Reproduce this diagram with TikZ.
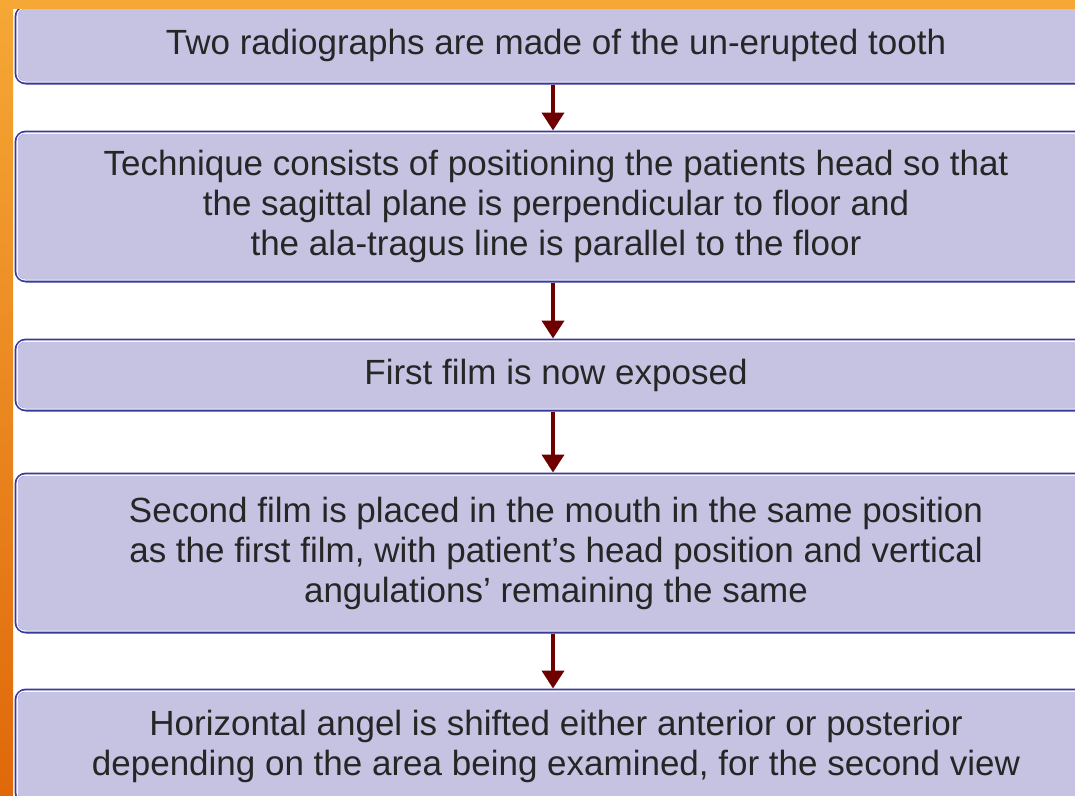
\documentclass[tikz,border=0pt]{standalone}
\usepackage{fontspec}
\setmainfont{Liberation Sans}
\usetikzlibrary{arrows.meta}
\definecolor{boxfill}{HTML}{C6C3E2}
\definecolor{boxline}{HTML}{3A3A9E}
\definecolor{arrred}{HTML}{6E0000}
\definecolor{txt}{HTML}{262626}
\definecolor{orTop}{HTML}{F5A836}
\definecolor{orBot}{HTML}{E0680A}
\tikzset{
  box/.style={draw=boxline, line width=3pt, fill=boxfill, rounded corners=10pt,
    minimum width=1080pt, inner sep=0pt, align=center, text=txt,
    font=\fontsize{35}{40}\selectfont},
  inset/.style={draw=white!85!boxfill, line width=1.3pt, rounded corners=8pt},
  arr/.style={draw=arrred, line width=4pt, -{Triangle[width=22pt,length=18pt]}},
}
\begin{document}
\begin{tikzpicture}[x=1pt,y=-1pt]
\useasboundingbox (0,0) rectangle (1075,795);
\clip (0,0) rectangle (1075,795);
\fill[white] (0,0) rectangle (1075,795);
% boxes
\node[box, minimum height=76pt] (b1) at (556,45) {Two radiographs are made of the un-erupted tooth};
\node[box, minimum height=149pt] (b2) at (556,206.5) {Technique consists of positioning the patients head so that\\the sagittal plane is perpendicular to floor and\\the ala-tragus line is parallel to the floor};
\node[box, minimum height=70pt] (b3) at (556,375) {First film is now exposed};
\node[box, minimum height=158pt] (b4) at (556,553) {Second film is placed in the mouth in the same position\\as the first film, with patient’s head position and vertical\\angulations’ remaining the same};
\node[box, minimum height=112pt] (b5) at (556,746) {Horizontal angel is shifted either anterior or posterior\\depending on the area being examined, for the second view};
% inner white lines
\foreach \b in {b1,b2,b3,b4,b5}{
  \draw[inset] ([shift={(2.6,2.6)}]\b.north west) rectangle ([shift={(-2.6,-2.6)}]\b.south east);
}
% arrows
\draw[arr] ([xshift=-3pt]b1.south) -- ([xshift=-3pt]b2.north);
\draw[arr] ([xshift=-3pt]b2.south) -- ([xshift=-3pt]b3.north);
\draw[arr] ([xshift=-3pt]b3.south) -- ([xshift=-3pt]b4.north);
\draw[arr] ([xshift=-3pt]b4.south) -- ([xshift=-3pt]b5.north);
% orange frame
\shade[top color=orTop, bottom color=orBot] (0,0) rectangle (13,795);
\fill[orTop] (0,0) rectangle (1075,9);
\end{tikzpicture}
\end{document}
